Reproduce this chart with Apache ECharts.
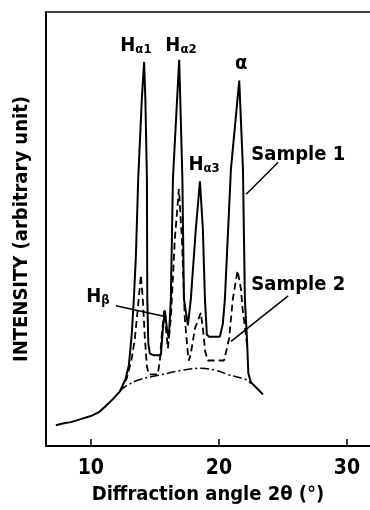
<!DOCTYPE html>
<html>
<head>
<meta charset="utf-8">
<script src="https://cdn.jsdelivr.net/npm/echarts@6/dist/echarts.min.js"></script>
<style>
  html, body { margin: 0; padding: 0; background: #fff; }
  #chart { width: 370px; height: 510px; }
</style>
</head>
<body>
<div id="chart"></div>
<script>
// diffraction angle 2theta (deg), intensity (arbitrary, 0-100)
const sample1 = [
  [7.27, 4.8], [7.81, 5.2], [8.44, 5.5], [9.22, 6.2], [10.0, 6.9], [10.63, 7.8],
  [11.17, 9.2], [11.72, 10.8], [12.27, 12.6], [12.73, 15.6], [12.97, 18.6],
  [13.2, 25.9], [13.36, 33.9], [13.52, 43.8], [13.7, 61.5], [13.98, 79.8],
  [14.16, 88.5], [14.26, 79.8], [14.38, 61.5], [14.41, 33.9], [14.49, 23.6],
  [14.61, 21.3], [14.92, 20.9], [15.47, 20.9], [15.63, 27.1], [15.78, 31.2],
  [15.94, 27.1], [16.09, 24.8], [16.25, 33.9], [16.41, 61.5], [16.9, 89.0],
  [17.15, 61.5], [17.27, 33.9], [17.58, 27.8], [17.81, 33.9], [18.2, 50.0],
  [18.52, 61.0], [18.75, 50.0], [18.91, 33.9], [19.06, 25.7], [19.22, 25.2],
  [20.08, 25.2], [20.31, 28.2], [20.47, 33.9], [20.94, 63.8], [21.59, 84.2],
  [21.88, 63.8], [22.03, 33.9], [22.19, 24.8], [22.3, 16.7], [22.5, 14.7],
  [22.97, 13.3], [23.44, 11.9]
]
const sample2 = [
  [12.27, 12.6], [12.81, 15.6], [13.2, 20.2], [13.44, 24.8], [13.67, 31.7],
  [13.91, 39.4], [14.06, 33.9], [14.22, 24.8], [14.38, 18.3], [14.53, 16.5],
  [15.23, 16.5], [15.39, 19.7], [15.55, 25.9], [15.73, 31.2], [15.86, 27.1],
  [16.02, 22.5], [16.25, 29.4], [16.56, 47.7], [16.88, 59.2], [17.11, 47.7],
  [17.34, 29.4], [17.58, 21.3], [17.66, 19.7], [17.81, 21.3], [18.13, 27.1],
  [18.59, 30.7], [18.75, 27.1], [18.93, 21.8], [19.14, 19.7], [20.39, 19.7],
  [20.63, 22.5], [20.8, 24.8], [21.09, 33.9], [21.46, 40.4], [21.72, 36.2],
  [21.85, 31.7], [22.11, 25.5], [22.23, 22.5]
]
const background = [
  [12.27, 12.6], [12.73, 13.8], [13.91, 15.4], [15.31, 16.3], [17.03, 17.4],
  [18.59, 17.9], [19.77, 17.4], [20.78, 16.4], [22.11, 15.3], [22.5, 14.4]
]
const xTicks = [10, 20, 30]
const xMin = 6.5
const xMax = 31.8

const font = 'DejaVu Sans Condensed, DejaVu Sans'

// peak labels and arrows (data coords)
const labels = [
  { coord: [13.52, 92.2], text: '{h|H}{s|α1}' },
  { coord: [17.04, 92.2], text: '{h|H}{s|α2}' },
  { coord: [21.74, 88.1], text: '{h|α}' },
  { coord: [18.84, 64.7], text: '{h|H}{s|α3}' },
  { coord: [10.55, 34.4], text: '{h|H}{s|β}' },
  { coord: [26.2, 67.2], text: '{h|Sample 1}' },
  { coord: [26.2, 37.2], text: '{h|Sample 2}' }
]
const arrows = [
  [[24.63, 65.4], [22.13, 58.0]],
  [[25.41, 34.6], [20.95, 24.1]],
  [[11.96, 32.3], [15.87, 29.8]]
]

const chart = echarts.init(document.getElementById('chart'))

const option = {
  animation: false,
  backgroundColor: '#fff',
  grid: { left: 46, top: 12, right: 0, bottom: 62 },
  xAxis: [
    {
      type: 'value',
      min: xMin,
      max: xMax,
      name: 'Diffraction angle 2θ (°)',
      nameLocation: 'middle',
      nameGap: 39,
      nameTextStyle: { fontFamily: font, fontSize: 20, color: '#000', fontWeight: 'bold' },
      axisLine: { show: true, lineStyle: { color: '#000', width: 2 } },
      axisTick: { show: true, inside: true, length: 7, customValues: xTicks, lineStyle: { color: '#000', width: 1.5 } },
      axisLabel: { customValues: xTicks, fontFamily: font, fontSize: 21, color: '#000', margin: 12, fontWeight: 'bold' },
      splitLine: { show: false }
    },
    {
      // top frame line only
      type: 'value',
      position: 'top',
      min: xMin,
      max: xMax,
      axisLine: { show: true, lineStyle: { color: '#000', width: 1.5 } },
      axisTick: { show: false },
      axisLabel: { show: false },
      splitLine: { show: false }
    }
  ],
  yAxis: {
    type: 'value',
    min: 0,
    max: 100,
    name: 'INTENSITY (arbitrary unit)',
    nameLocation: 'middle',
    nameRotate: 90,
    nameGap: 14,
    nameTextStyle: { fontFamily: font, fontSize: 20, color: '#000', fontWeight: 'bold' },
    axisLine: { show: true, lineStyle: { color: '#000', width: 2 } },
    axisTick: { show: false },
    axisLabel: { show: false },
    splitLine: { show: false }
  },
  series: [
    {
      name: 'Sample 1',
      type: 'line',
      data: sample1,
      showSymbol: false,
      lineStyle: { color: '#000', width: 2 },
      z: 3
    },
    {
      name: 'Sample 2',
      type: 'line',
      data: sample2,
      showSymbol: false,
      lineStyle: { color: '#000', width: 1.8, type: [7, 4] },
      z: 2
    },
    {
      name: 'background',
      type: 'line',
      data: background,
      smooth: 0.4,
      showSymbol: false,
      lineStyle: { color: '#000', width: 1.6, type: [9, 3, 2, 3] },
      markPoint: {
        symbol: 'circle',
        symbolSize: 0,
        silent: true,
        data: labels.map(l => ({
          coord: l.coord,
          label: {
            show: true,
            position: 'inside',
            formatter: l.text,
            rich: {
              h: { fontFamily: font, fontSize: 20, color: '#000', fontWeight: 'bold', verticalAlign: 'bottom' },
              s: { fontFamily: font, fontSize: 13, color: '#000', fontWeight: 'bold', verticalAlign: 'bottom' }
            }
          }
        }))
      },
      markLine: {
        silent: true,
        symbol: ['none', 'arrow'],
        symbolSize: [0, 11],
        label: { show: false },
        lineStyle: { color: '#000', width: 1.5, type: 'solid' },
        data: arrows.map(a => [{ coord: a[0] }, { coord: a[1] }])
      }
    }
  ]
}

chart.setOption(option)
</script>
</body>
</html>
